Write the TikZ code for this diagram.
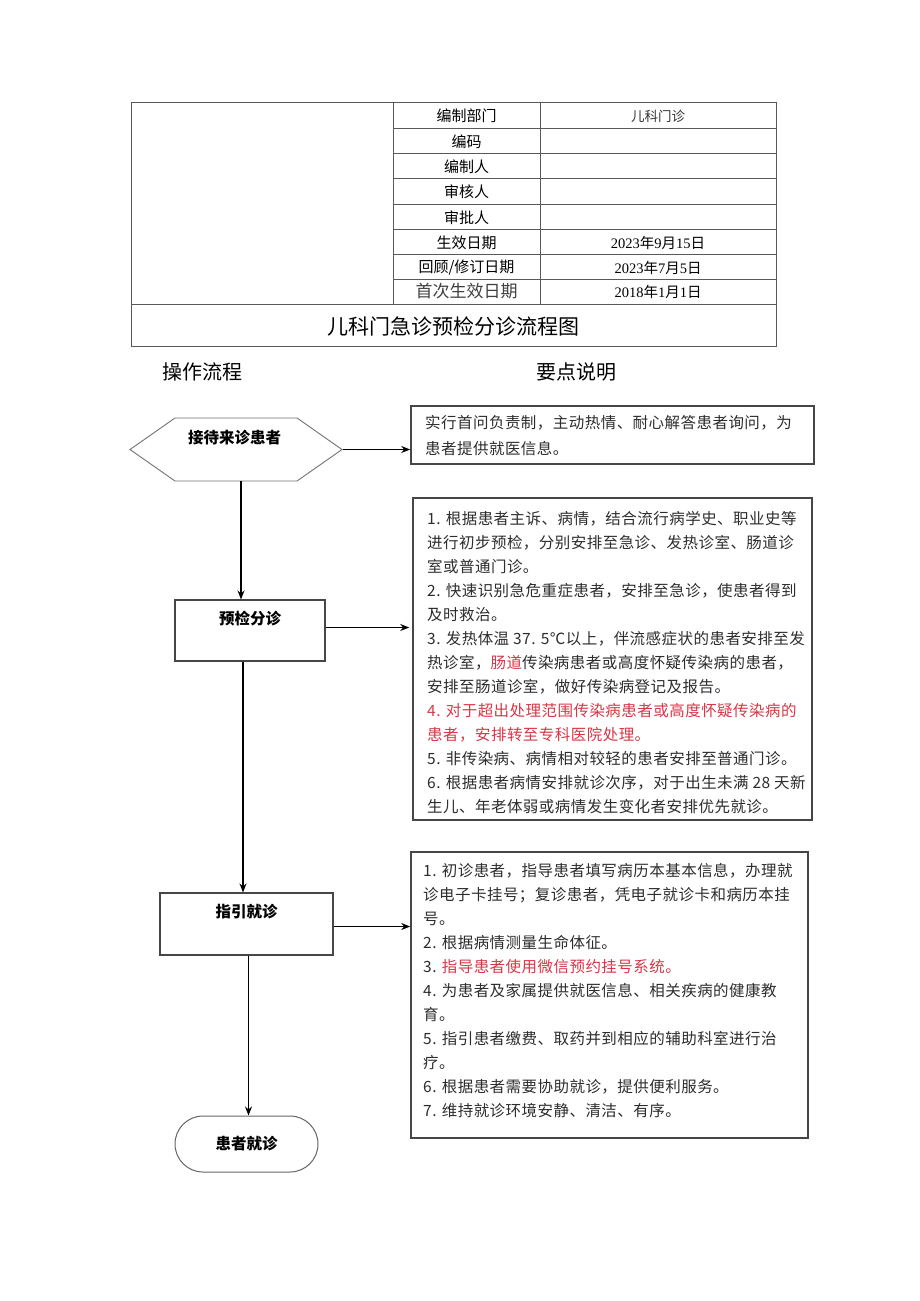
\documentclass[tikz,border=0pt]{standalone}
\usepackage{fontspec}
\setmainfont{Liberation Serif}
\newfontfamily\cjk{Noto Sans CJK SC}
\newfontfamily\cjkl[LetterSpace=3]{Noto Sans CJK SC}
\usetikzlibrary{arrows.meta,shapes.symbols,calc}
\definecolor{txt}{RGB}{45,45,45}
\definecolor{redt}{RGB}{215,55,70}
\definecolor{edge}{RGB}{70,70,70}
\begin{document}
\begin{tikzpicture}[x=1pt,y=-1pt,
  tline/.style={draw=black!65, line width=0.9pt},
  hl/.style={font=\cjk\fontsize{15}{16}\selectfont, text=black, inner sep=0pt},
  dt/.style={font=\fontsize{14.5}{16}\selectfont, text=black, inner sep=0pt},
  head/.style={font=\cjk\fontsize{20}{22}\selectfont, text=black, inner sep=0pt},
  fbox/.style={draw=edge, line width=1.1pt, fill=white, inner sep=0pt},
  flab/.style={font=\cjk\bfseries\fontsize{15.5}{17}\selectfont, text=black, inner sep=0pt},
  nbox/.style={draw=edge, line width=1.6pt, fill=white, inner sep=0pt},
  body/.style={font=\cjkl\fontsize{15.5}{24}\selectfont, text=txt, align=left, inner sep=0pt, anchor=north west},
  arr/.style={draw=black, line width=1.3pt, -{Stealth[length=9pt,width=7pt]}}
]
\fill[white] (0,0) rectangle (920,1301);
\useasboundingbox (0,0) rectangle (920,1301);

% ---------- header table ----------
\draw[tline] (131,102) rectangle (776,346);
\draw[tline] (131,304) -- (776,304);
\draw[tline] (393,102) -- (393,304);
\draw[tline] (540,102) -- (540,304);
\foreach \yy in {128,153,178,204,229,254,279}
  \draw[tline] (393,\yy) -- (776,\yy);

\node[hl] (r1) at (466.5,116) {编制部门};
\node[hl] (r2) at (466.5,141.5) {编码};
\node[hl] (r3) at (466.5,166.5) {编制人};
\node[hl] (r4) at (466.5,192) {审核人};
\node[hl] (r5) at (466.5,217.5) {审批人};
\node[hl] (r6) at (466.5,242.5) {生效日期};
\node[hl] (r7) at (466.5,267.5) {回顾/修订日期};
\node[hl, font=\cjk\fontsize{17}{19}\selectfont, text=black!75] (r8) at (466.5,291.5) {首次生效日期};
\node[hl, font=\cjk\fontsize{13.5}{15}\selectfont, text=black!80] (v1) at (658,116) {儿科门诊};
\node[dt] (v6) at (658,242.5) {2023{\cjk 年}9{\cjk 月}15{\cjk 日}};
\node[dt] (v7) at (658,267.5) {2023{\cjk 年}7{\cjk 月}5{\cjk 日}};
\node[dt] (v8) at (658,291.5) {2018{\cjk 年}1{\cjk 月}1{\cjk 日}};
\node[hl, font=\cjk\fontsize{21}{23}\selectfont] (title) at (453,326) {儿科门急诊预检分诊流程图};

% ---------- section heads ----------
\node[head] (opflow) at (202,372) {操作流程};
\node[head] (keypts) at (576,372) {要点说明};

% ---------- flow nodes ----------
\node[signal, signal to=west and east, signal pointer angle=70, draw=black!55, line width=0.9pt,
      minimum width=212pt, minimum height=63pt, inner sep=0pt] (hex) at (236,449.5) {};
\node[flab] (hext) at (234.5,438) {接待来诊患者};

\node[fbox, minimum width=150pt, minimum height=61pt] (yj) at (250,630.5) {};
\node[flab] (yjt) at ($(yj.north)+(0,19)$) {预检分诊};

\node[fbox, minimum width=173pt, minimum height=62pt] (zy) at (246.5,924) {};
\node[flab] (zyt) at ($(zy.north)+(0,19)$) {指引就诊};

\node[draw=black!60, line width=1pt, rounded corners=28pt, minimum width=143pt, minimum height=56pt,
      font=\cjk\bfseries\fontsize{15.5}{17}\selectfont, inner sep=0pt] (hz) at (246.5,1144) {患者就诊};

% ---------- note boxes ----------
\node[nbox, minimum width=403pt, minimum height=58pt] (b1) at (612.5,435) {};
\node[body, font=\cjkl\fontsize{15.5}{26}\selectfont] (b1t) at (425,415.5) {实行首问负责制，主动热情、耐心解答患者询问，为\\患者提供就医信息。};

\node[nbox, minimum width=399pt, minimum height=322pt] (b2) at (612.5,659) {};
\node[body] (b2t) at (427,511) {1. 根据患者主诉、病情，结合流行病学史、职业史等\\
进行初步预检，分别安排至急诊、发热诊室、肠道诊\\
室或普通门诊。\\
2. 快速识别急危重症患者，安排至急诊，使患者得到\\
及时救治。\\
3. 发热体温 37. 5℃以上，伴流感症状的患者安排至发\\
热诊室，\textcolor{redt}{肠道}传染病患者或高度怀疑传染病的患者，\\
安排至肠道诊室，做好传染病登记及报告。\\
\textcolor{redt}{4. 对于超出处理范围传染病患者或高度怀疑传染病的}\\
\textcolor{redt}{患者，安排转至专科医院处理。}\\
5. 非传染病、病情相对较轻的患者安排至普通门诊。\\
6. 根据患者病情安排就诊次序，对于出生未满 28 天新\\
生儿、年老体弱或病情发生变化者安排优先就诊。};

\node[nbox, minimum width=397pt, minimum height=286pt] (b3) at (609.5,995) {};
\node[body] (b3t) at (423,863.5) {1. 初诊患者，指导患者填写病历本基本信息，办理就\\
诊电子卡挂号；复诊患者，凭电子就诊卡和病历本挂\\
号。\\
2. 根据病情测量生命体征。\\
3. \textcolor{redt}{指导患者使用微信预约挂号系统。}\\
4. 为患者及家属提供就医信息、相关疾病的健康教\\
育。\\
5. 指引患者缴费、取药并到相应的辅助科室进行治\\
疗。\\
6. 根据患者需要协助就诊，提供便利服务。\\
7. 维持就诊环境安静、清洁、有序。};

% ---------- connectors ----------
\draw[arr] (hex.east) -- (hex.east -| b1.west);
\coordinate (hexb) at (241,481);
\draw[arr] (hexb |- hex.south) -- (hexb |- yj.north);
\draw[arr] ($(yj.east)+(0,-3)$) -- ($(yj.east -| b2.west)+(-3,-3)$);
\coordinate (yjb) at (243,661);
\draw[arr] (yjb |- yj.south) -- (yjb |- zy.north);
\draw[arr] ($(zy.east)+(0,2.5)$) -- ($(zy.east -| b3.west)+(0,2.5)$);
\coordinate (zyb) at (248.5,955);
\draw[arr] (zyb |- zy.south) -- (zyb |- hz.north);
\end{tikzpicture}
\end{document}
